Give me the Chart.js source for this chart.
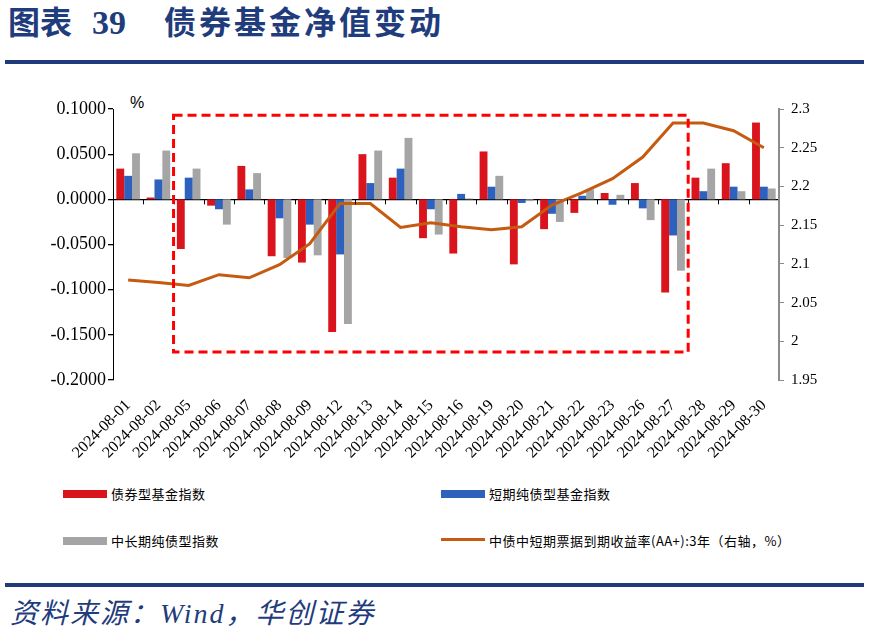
<!DOCTYPE html>
<html>
<head>
<meta charset="utf-8">
<script src="https://cdn.jsdelivr.net/npm/chart.js@4.4.1/dist/chart.umd.min.js"></script>
<style>
    html, body { margin: 0; padding: 0; background: #fff; }
    body { width: 869px; height: 637px; position: relative; overflow: hidden; }
    .title { position: absolute; top: 5px; color: #1f3c7c; font-weight: bold; font-size: 32px; line-height: 36px; font-family: "Liberation Serif", "Noto Sans CJK SC", serif; white-space: nowrap; }
    .rule { position: absolute; left: 5px; width: 859px; height: 4px; background: #1f3b7b; }
    .source { position: absolute; left: 10px; top: 597px; color: #1f3c7c; font-style: italic; font-size: 28px; line-height: 34px; font-family: "Liberation Serif", "Noto Sans CJK SC", serif; letter-spacing: 2px; white-space: nowrap; }
    .unit { position: absolute; left: 130px; top: 94px; font: 16px "Liberation Sans", sans-serif; color: #000; }
    .chart-box { position: absolute; left: 0; top: 90px; width: 869px; height: 380px; }
    .legend-item { position: absolute; font: 13px "Noto Sans CJK SC", sans-serif; color: #000; line-height: 16px; letter-spacing: 0.5px; white-space: nowrap; }
    .swatch { position: absolute; }
</style>
</head>
<body>
<div class="title" style="left:8px;">图表</div>
<div class="title" style="left:92px; font-size:34px;">39</div>
<div class="title" style="left:164px; letter-spacing:3px;">债券基金净值变动</div>
<div class="rule" style="top:60px;"></div>

<div class="unit">%</div>
<div class="chart-box"><canvas id="navChart" width="869" height="380"></canvas></div>

<div class="swatch" style="left:63px; top:490px; width:44px; height:8px; background:#d9141c;"></div>
<div class="legend-item" style="left:111px; top:486px;">债券型基金指数</div>
<div class="swatch" style="left:441px; top:490px; width:44px; height:8px; background:#2e60bd;"></div>
<div class="legend-item" style="left:489px; top:486px;">短期纯债型基金指数</div>
<div class="swatch" style="left:63px; top:537px; width:44px; height:8px; background:#a5a5a5;"></div>
<div class="legend-item" style="left:111px; top:533px;">中长期纯债型指数</div>
<div class="swatch" style="left:441px; top:538px; width:44px; height:3px; background:#c55a11;"></div>
<div class="legend-item" style="left:489px; top:533px;">中债中短期票据到期收益率(AA+):3年（右轴，%）</div>

<div class="rule" style="top:583px;"></div>
<div class="source">资料来源：Wind，华创证券</div>

<script>
const labels = ['2024-08-01', '2024-08-02', '2024-08-05', '2024-08-06', '2024-08-07', '2024-08-08',
    '2024-08-09', '2024-08-12', '2024-08-13', '2024-08-14', '2024-08-15', '2024-08-16',
    '2024-08-19', '2024-08-20', '2024-08-21', '2024-08-22', '2024-08-23', '2024-08-26',
    '2024-08-27', '2024-08-28', '2024-08-29', '2024-08-30'];

// 债券型基金指数 (%)
const bondFund = [0.034, 0.002, -0.055, -0.007, 0.037, -0.063, -0.070, -0.147, 0.050, 0.024, -0.043,
    -0.060, 0.053, -0.072, -0.033, -0.015, 0.007, 0.018, -0.103, 0.024, 0.040, 0.085];
// 短期纯债型基金指数 (%)
const shortBond = [0.026, 0.022, 0.024, -0.011, 0.011, -0.021, -0.028, -0.061, 0.018, 0.034, -0.011,
    0.006, 0.014, -0.004, -0.016, 0.004, -0.006, -0.010, -0.040, 0.009, 0.014, 0.014];
// 中长期纯债型指数 (%)
const midLongBond = [0.051, 0.054, 0.034, -0.028, 0.029, -0.065, -0.062, -0.138, 0.054, 0.068, -0.039,
    0.001, 0.026, -0.002, -0.025, 0.011, 0.005, -0.023, -0.079, 0.034, 0.009, 0.012];
// 中债中短期票据到期收益率(AA+):3年, right axis
const noteYield = [2.079, 2.076, 2.072, 2.086, 2.082, 2.099, 2.126, 2.178, 2.178, 2.147, 2.153,
    2.148, 2.144, 2.148, 2.176, 2.192, 2.210, 2.238, 2.282, 2.282, 2.272, 2.250];

const leftTicks = { min: -0.2, max: 0.1, step: 0.05 };
const rightTicks = { min: 1.95, max: 2.3, step: 0.05 };

// highlighted window: category index range and left-axis value range
const boxFrom = 1.5;
const boxTo = 18.5;
const boxTop = 0.093;
const boxBottom = -0.169;

const serif = '"Liberation Serif", "Times New Roman", serif';

// tick marks on the zero line and the red dashed window
const extras = {
    id: 'extras',
    afterDatasetsDraw(chart) {
        const { ctx, scales: { x, y } } = chart;
        const y0 = y.getPixelForValue(0);
        ctx.save();
        ctx.strokeStyle = '#000';
        ctx.lineWidth = 1;
        ctx.beginPath();
        for (let i = 1; i < labels.length; i++) {
            const px = Math.round(x.getPixelForValue(i - 0.5)) + 0.5;
            ctx.moveTo(px, y0);
            ctx.lineTo(px, y0 + 5);
        }
        ctx.stroke();

        const left = x.getPixelForValue(boxFrom);
        const right = x.getPixelForValue(boxTo);
        const top = y.getPixelForValue(boxTop);
        const bottom = y.getPixelForValue(boxBottom);
        ctx.strokeStyle = '#ff0000';
        ctx.lineWidth = 3;
        ctx.setLineDash([9, 5]);
        ctx.strokeRect(left, top, right - left, bottom - top);
        ctx.restore();
    }
};

const ctx = document.getElementById('navChart').getContext('2d');

new Chart(ctx, {
    type: 'bar',
    data: {
        labels: labels,
        datasets: [{
            type: 'line',
            label: '中债中短期票据到期收益率(AA+):3年（右轴，%）',
            data: noteYield,
            yAxisID: 'y1',
            borderColor: '#c55a11',
            borderWidth: 3,
            pointRadius: 0,
            tension: 0,
            order: 0
        }, {
            label: '债券型基金指数',
            data: bondFund,
            backgroundColor: '#d9141c',
            order: 1
        }, {
            label: '短期纯债型基金指数',
            data: shortBond,
            backgroundColor: '#2e60bd',
            order: 1
        }, {
            label: '中长期纯债型指数',
            data: midLongBond,
            backgroundColor: '#a5a5a5',
            order: 1
        }]
    },
    options: {
        responsive: false,
        animation: false,
        layout: {
            padding: { top: 19, left: 0, right: 0, bottom: 0 }
        },
        datasets: {
            bar: {
                categoryPercentage: 0.78,
                barPercentage: 1.0
            }
        },
        plugins: {
            legend: { display: false },
            tooltip: { enabled: false }
        },
        scales: {
            x: {
                grid: { display: false },
                border: { display: false },
                ticks: {
                    autoSkip: false,
                    maxRotation: 45,
                    minRotation: 45,
                    padding: 8,
                    color: '#000',
                    font: { family: serif, size: 16 }
                },
                afterFit: function (scale) { scale.height = 90; }
            },
            y: {
                position: 'left',
                min: leftTicks.min,
                max: leftTicks.max,
                ticks: {
                    stepSize: leftTicks.step,
                    padding: 2,
                    color: '#000',
                    font: { family: serif, size: 18 },
                    callback: function (value) {
                        return value.toFixed(4);
                    }
                },
                grid: {
                    color: function (c) {
                        return Math.abs(c.tick.value) < 1e-9 ? '#000' : 'rgba(0,0,0,0)';
                    },
                    lineWidth: 1.3,
                    tickLength: 5,
                    tickColor: '#000'
                },
                border: { display: true, color: '#000', width: 1 },
                afterFit: function (scale) { scale.width = 113; }
            },
            y1: {
                position: 'right',
                min: rightTicks.min,
                max: rightTicks.max,
                ticks: {
                    stepSize: rightTicks.step,
                    padding: 7,
                    color: '#000',
                    font: { family: serif, size: 15 },
                    callback: function (value) {
                        return String(parseFloat(value.toFixed(2)));
                    }
                },
                grid: {
                    drawOnChartArea: false,
                    tickLength: 5,
                    tickColor: '#8c8c8c'
                },
                border: { display: true, color: '#8c8c8c', width: 2 },
                afterFit: function (scale) { scale.width = 90; }
            }
        }
    },
    plugins: [extras]
});
</script>
</body>
</html>
